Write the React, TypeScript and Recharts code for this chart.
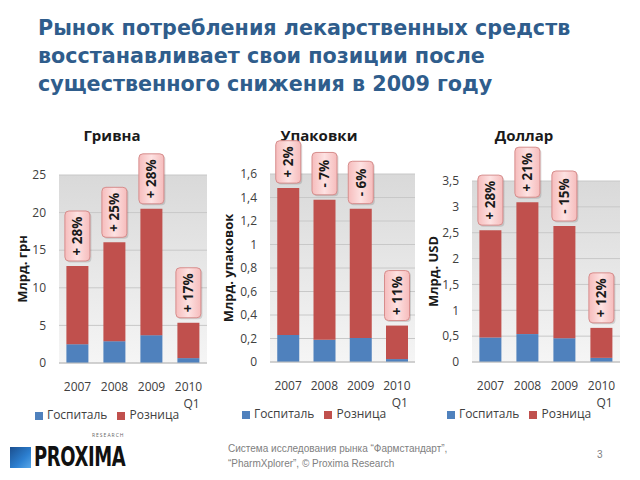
import React from "react"
import { BarChart, Bar, XAxis, YAxis, CartesianGrid, Legend, LabelList } from "recharts"

const years = ["2007", "2008", "2009", "2010 Q1"]

// Гривна, млрд грн
const uahHospital = [2.5, 2.9, 3.7, 0.65]
const uahRetail = [10.4, 13.15, 16.8, 4.7]
const uahGrowth = ["+ 28%", "+ 25%", "+ 28%", "+ 17%"]
const uahTicks = [0, 5, 10, 15, 20, 25]

// Упаковки, млрд упаковок
const packHospital = [0.23, 0.19, 0.205, 0.025]
const packRetail = [1.25, 1.19, 1.1, 0.285]
const packGrowth = ["+ 2%", "- 7%", "- 6%", "+ 11%"]
const packTicks = [0, 0.2, 0.4, 0.6, 0.8, 1, 1.2, 1.4, 1.6]

// Доллар, млрд USD
const usdHospital = [0.475, 0.54, 0.46, 0.08]
const usdRetail = [2.075, 2.55, 2.17, 0.58]
const usdGrowth = ["+ 28%", "+ 21%", "- 15%", "+ 12%"]
const usdTicks = [0, 0.5, 1, 1.5, 2, 2.5, 3, 3.5]

const BLUE = "#4f81bd"
const RED = "#c0504d"
const TICK = "#404040"

const fmt = (v: number) => String(v).replace(".", ",")

function YearTick({ x, y, payload }: any) {
  const parts = String(payload.value).split(" ")
  return (
    <text x={x} y={y} textAnchor="middle" fontSize={12} fill={TICK}>
      {parts.map((p, i) => (
        <tspan key={i} x={i === 0 ? x : x + 3} dy={i === 0 ? 28 : 16.5}>
          {p}
        </tspan>
      ))}
    </text>
  )
}

function makeGrowthBox(gid: string) {
  return function GrowthBox(props: any) {
    const { x, y, width, value } = props
    const text = String(value)
    const h = 12 + text.length * 7.6
    const bx = Number(x) - 1.5
    const bw = Number(width) + 3
    const by = Number(y) - 5 - h
    const cx = bx + bw / 2
    const cy = by + h / 2
    return (
      <g>
        <rect x={bx + 1.5} y={by + 1.5} width={bw} height={h} rx={4} fill="rgba(0,0,0,0.13)" />
        <rect x={bx} y={by} width={bw} height={h} rx={4} fill={`url(#${gid}-box)`} stroke="#d68d8c" />
        <text
          x={cx}
          y={cy}
          transform={`rotate(-90 ${cx} ${cy})`}
          textAnchor="middle"
          dominantBaseline="central"
          fontSize={13.5}
          fontWeight="bold"
          fill="#1a1a1a"
        >
          {text}
        </text>
      </g>
    )
  }
}

interface PanelProps {
  id: string
  title: string
  yLabel: string
  hospital: number[]
  retail: number[]
  growth: string[]
  ticks: number[]
  left: number
  width: number
  margin: { top: number; right: number; bottom: number; left: number }
  yWidth: number
}

function Panel({ id, title, yLabel, hospital, retail, growth, ticks, left, width, margin, yWidth }: PanelProps) {
  const data = years.map((year, i) => ({
    year,
    hospital: hospital[i],
    retail: retail[i],
    growth: growth[i],
  }))
  const top = ticks[ticks.length - 1]

  return (
    <div style={{ position: "absolute", left, top: 120, width, height: 310 }}>
      <div
        style={{
          position: "absolute",
          top: 5,
          left: 0,
          width,
          textAlign: "center",
          fontSize: 15,
          lineHeight: "20px",
          fontWeight: "bold",
          color: "#1a1a1a",
        }}
      >
        {title}
      </div>
      <BarChart width={width} height={310} data={data} margin={margin} barCategoryGap="20%">
        <defs>
          <linearGradient id={`${id}-bg`} x1="0" y1="0" x2="0" y2="1">
            <stop offset="0%" stopColor="#d9d9d9" />
            <stop offset="100%" stopColor="#f5f5f5" />
          </linearGradient>
          <linearGradient id={`${id}-box`} x1="0" y1="0" x2="1" y2="0">
            <stop offset="0%" stopColor="#f6bcbc" />
            <stop offset="50%" stopColor="#fde2e2" />
            <stop offset="100%" stopColor="#f6bcbc" />
          </linearGradient>
        </defs>
        <CartesianGrid vertical={false} stroke="#c8c8c8" fill={`url(#${id}-bg)`} />
        <XAxis
          dataKey="year"
          interval={0}
          tickLine={false}
          tickSize={0}
          tickMargin={0}
          height={44}
          axisLine={{ stroke: "#bfbfbf" }}
          tick={<YearTick />}
        />
        <YAxis
          width={yWidth}
          domain={[0, top]}
          ticks={ticks}
          tickFormatter={fmt}
          axisLine={false}
          tickLine={false}
          tickSize={0}
          tickMargin={13}
          tick={{ fontSize: 12, fill: TICK }}
          label={{
            value: yLabel,
            angle: -90,
            position: "insideLeft",
            offset: 5,
            style: { textAnchor: "middle", fontSize: 13, fontWeight: "bold", fill: "#1a1a1a" },
          }}
        />
        <Legend
          verticalAlign="bottom"
          align="center"
          iconType="square"
          iconSize={8}
          wrapperStyle={{ left: 0, width, height: 16, lineHeight: "16px", fontSize: 12 }}
          formatter={(v: string) => <span style={{ color: TICK }}>{v}</span>}
        />
        <Bar dataKey="hospital" name="Госпиталь" stackId="a" fill={BLUE} isAnimationActive={false} />
        <Bar dataKey="retail" name="Розница" stackId="a" fill={RED} isAnimationActive={false}>
          <LabelList dataKey="growth" content={makeGrowthBox(id)} />
        </Bar>
      </BarChart>
    </div>
  )
}

export default function App() {
  return (
    <div
      style={{
        position: "absolute",
        left: 0,
        top: 0,
        width: 640,
        height: 480,
        background: "#fff",
        fontFamily: "'Open Sans', sans-serif",
        overflow: "hidden",
      }}
    >
      <div
        style={{
          position: "absolute",
          left: 38,
          top: 14,
          width: 600,
          fontFamily: "'DejaVu Sans', sans-serif",
          fontWeight: "bold",
          fontSize: 20.7,
          lineHeight: "28px",
          color: "#2f5d8c",
        }}
      >
        Рынок потребления лекарственных средств
        <br />
        восстанавливает свои позиции после
        <br />
        существенного снижения в 2009 году
      </div>

      <Panel
        id="uah"
        title="Гривна"
        yLabel="Млрд. грн"
        hospital={uahHospital}
        retail={uahRetail}
        growth={uahGrowth}
        ticks={uahTicks}
        left={0}
        width={224}
        margin={{ top: 55, right: 17, bottom: 7, left: 17 }}
        yWidth={42}
      />
      <Panel
        id="pack"
        title="Упаковки"
        yLabel="Млрд. упаковок"
        hospital={packHospital}
        retail={packRetail}
        growth={packGrowth}
        ticks={packTicks}
        left={214}
        width={210}
        margin={{ top: 54, right: 9, bottom: 8, left: 9 }}
        yWidth={47}
      />
      <Panel
        id="usd"
        title="Доллар"
        yLabel="Млрд. USD"
        hospital={usdHospital}
        retail={usdRetail}
        growth={usdGrowth}
        ticks={usdTicks}
        left={424}
        width={200}
        margin={{ top: 61, right: 4, bottom: 8, left: 4 }}
        yWidth={44}
      />

      <div
        style={{
          position: "absolute",
          left: 10,
          top: 447,
          width: 21,
          height: 21,
          background: "linear-gradient(135deg, #1b4f8f 0%, #2c7fd0 60%, #58a8ea 100%)",
        }}
      />
      <div
        style={{
          position: "absolute",
          left: 34,
          top: 446,
          fontFamily: "'DejaVu Sans Condensed', 'DejaVu Sans', sans-serif",
          fontWeight: "bold",
          fontSize: 27,
          lineHeight: "22px",
          color: "#111",
          transform: "scaleX(0.74)",
          transformOrigin: "left top",
          letterSpacing: -0.5,
        }}
      >
        PROXIMA
      </div>
      <div
        style={{
          position: "absolute",
          left: 92,
          top: 432,
          fontSize: 5,
          lineHeight: "6px",
          color: "#666",
          letterSpacing: 1,
        }}
      >
        RESEARCH
      </div>
      <div
        style={{
          position: "absolute",
          left: 228,
          top: 441,
          fontSize: 10,
          lineHeight: "15px",
          color: "#808080",
          fontFamily: "'Liberation Sans', sans-serif",
        }}
      >
        Система исследования рынка “Фармстандарт”,
        <br />
        “PharmXplorer”, © Proxima Research
      </div>
      <div
        style={{
          position: "absolute",
          left: 597,
          top: 449,
          fontSize: 10,
          color: "#808080",
          fontFamily: "'Liberation Sans', sans-serif",
        }}
      >
        3
      </div>
    </div>
  )
}
